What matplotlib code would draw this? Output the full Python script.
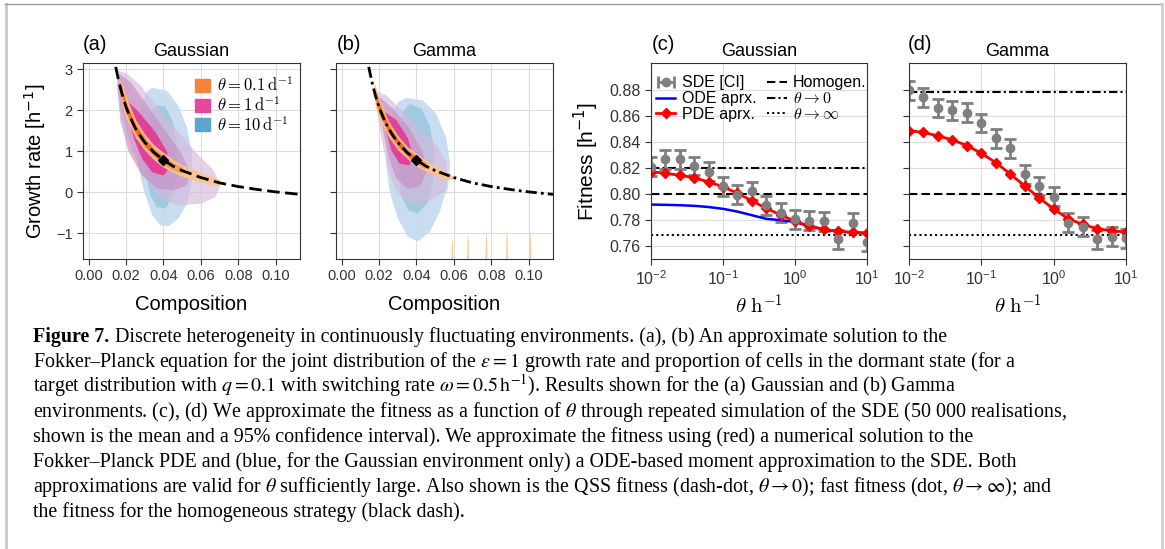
import matplotlib
matplotlib.use("Agg")
import matplotlib.pyplot as plt
from matplotlib.patches import Patch, Ellipse
from matplotlib.lines import Line2D
from matplotlib.collections import LineCollection
from matplotlib.container import ErrorbarContainer
from matplotlib.text import Annotation

plt.rcParams['font.family'] = ['Liberation Sans', 'DejaVu Sans']
plt.rcParams['mathtext.fontset'] = 'cm'
plt.rcParams['axes.edgecolor'] = '#333333'
plt.rcParams['xtick.color'] = '#333333'
plt.rcParams['ytick.color'] = '#333333'

# ---------------- panels (a), (b): composition vs growth rate ----------------
# boundary curve (same in both environments)
curve_x = [0.0145, 0.016, 0.018, 0.02, 0.022, 0.025, 0.0275, 0.03, 0.035, 0.04,
           0.045, 0.05, 0.06, 0.07, 0.08, 0.09, 0.10, 0.113]
curve_y = [3.06, 2.73, 2.37, 2.08, 1.85, 1.56, 1.38, 1.22, 0.97, 0.79,
           0.64, 0.53, 0.36, 0.23, 0.14, 0.07, 0.01, -0.05]
target = (0.04, 0.79)

# Gaussian environment, density outlines (composition, growth rate)
ga_blue_outer = [(0.0340, 2.55), (0.0420, 2.47), (0.0479, 2.12), (0.0525, 1.59),
                 (0.0553, 0.94), (0.0553, 0.29), (0.0525, -0.28), (0.0481, -0.64),
                 (0.0428, -0.83), (0.0384, -0.81), (0.0340, -0.56), (0.0295, 0.05),
                 (0.0262, 0.70), (0.0262, 1.51), (0.0287, 2.16), (0.0313, 2.45)]
ga_blue_mid = [(0.0366, 2.13), (0.0411, 2.09), (0.0447, 1.76), (0.0473, 1.11),
               (0.0473, 0.46), (0.0447, -0.11), (0.0411, -0.40), (0.0366, -0.36),
               (0.0329, -0.07), (0.0302, 0.54), (0.0302, 1.35), (0.0329, 1.92)]
ga_pink_outer = [(0.0153, 2.98), (0.0206, 2.89), (0.0277, 2.61), (0.0366, 2.08),
                 (0.0473, 1.51), (0.0580, 0.94), (0.0668, 0.54), (0.0704, 0.16),
                 (0.0678, -0.12), (0.0598, -0.28), (0.0491, -0.32), (0.0402, -0.20),
                 (0.0349, 0.05), (0.0277, 0.54), (0.0215, 1.27), (0.0171, 2.08),
                 (0.0153, 2.65)]
ga_pink_mid = [(0.0162, 2.89), (0.0224, 2.69), (0.0313, 2.12), (0.0402, 1.55),
               (0.0491, 0.98), (0.0544, 0.50), (0.0526, 0.17), (0.0455, 0.05),
               (0.0366, 0.09), (0.0286, 0.41), (0.0215, 0.98), (0.0171, 1.72),
               (0.0153, 2.53)]
ga_pink_core = [(0.0206, 2.24), (0.0268, 1.96), (0.0357, 1.47), (0.0420, 0.98),
                (0.0428, 0.58), (0.0402, 0.41), (0.0340, 0.49), (0.0286, 0.82),
                (0.0242, 1.31), (0.0215, 1.80)]
ga_band_x = [0.0163, 0.018, 0.02, 0.025, 0.03, 0.035, 0.04, 0.045, 0.05, 0.06, 0.07]
ga_band_hi = [2.76, 2.64, 2.34, 1.78, 1.42, 1.15, 0.97, 0.80, 0.67, 0.48, 0.31]
ga_band_lo = [2.58, 2.10, 1.82, 1.34, 1.02, 0.79, 0.61, 0.49, 0.39, 0.24, 0.16]
ga_mid_x = [0.0166, 0.018, 0.02, 0.025, 0.03, 0.035, 0.04, 0.045, 0.05]
ga_mid_hi = [2.72, 2.54, 2.24, 1.70, 1.35, 1.08, 0.90, 0.74, 0.61]
ga_mid_lo = [2.60, 2.20, 1.92, 1.42, 1.09, 0.86, 0.68, 0.54, 0.46]
ga_core_x = [0.017, 0.02, 0.025, 0.03, 0.035, 0.04]
ga_core_hi = [2.68, 2.17, 1.64, 1.30, 1.04, 0.85]
ga_core_lo = [2.56, 1.99, 1.48, 1.14, 0.90, 0.73]

# Gamma environment
gm_blue_outer = [(0.0346, 2.30), (0.0435, 2.24), (0.0506, 1.92), (0.0560, 1.31),
                 (0.0581, 0.66), (0.0569, 0.09), (0.0551, -0.07), (0.0524, -0.48),
                 (0.0471, -0.97), (0.0408, -1.20), (0.0355, -1.09), (0.0301, -0.64),
                 (0.0257, 0.01), (0.0239, 0.66), (0.0248, 1.39), (0.0275, 1.96),
                 (0.0301, 2.20)]
gm_blue_mid = [(0.0364, 2.16), (0.0426, 2.04), (0.0471, 1.63), (0.0497, 0.98),
               (0.0488, 0.25), (0.0462, -0.24), (0.0408, -0.52), (0.0355, -0.44),
               (0.0319, -0.07), (0.0301, 0.66), (0.0310, 1.47), (0.0328, 1.96)]
gm_pink_outer = [(0.0186, 2.45), (0.0239, 2.37), (0.0328, 1.96), (0.0417, 1.55),
                 (0.0506, 1.15), (0.0560, 0.74), (0.0569, 0.33), (0.0551, 0.01),
                 (0.0488, -0.16), (0.0408, -0.28), (0.0337, -0.20), (0.0284, 0.09),
                 (0.0239, 0.74), (0.0203, 1.55), (0.0186, 2.12)]
gm_pink_mid = [(0.0203, 2.33), (0.0275, 2.04), (0.0364, 1.55), (0.0435, 0.98),
               (0.0453, 0.49), (0.0417, 0.13), (0.0355, 0.09), (0.0293, 0.33),
               (0.0248, 0.90), (0.0212, 1.72)]
gm_pink_core = [(0.0230, 1.96), (0.0293, 1.76), (0.0355, 1.31), (0.0381, 0.90),
                (0.0364, 0.66), (0.0310, 0.70), (0.0266, 1.02), (0.0239, 1.47)]
gm_band_x = [0.0172, 0.018, 0.02, 0.025, 0.03, 0.035, 0.04, 0.045, 0.05, 0.055, 0.0595]
gm_band_hi = [2.66, 2.60, 2.30, 1.74, 1.39, 1.12, 0.94, 0.78, 0.65, 0.53, 0.40]
gm_band_lo = [2.40, 2.10, 1.80, 1.36, 1.04, 0.82, 0.64, 0.52, 0.42, 0.34, 0.31]
gm_mid_x = [0.0176, 0.02, 0.025, 0.03, 0.035, 0.04, 0.045]
gm_mid_hi = [2.56, 2.22, 1.68, 1.34, 1.07, 0.89, 0.73]
gm_mid_lo = [2.30, 1.90, 1.43, 1.10, 0.87, 0.69, 0.56]
gm_core_x = [0.0182, 0.02, 0.025, 0.03, 0.035, 0.04]
gm_core_hi = [2.46, 2.16, 1.63, 1.29, 1.03, 0.85]
gm_core_lo = [2.28, 1.97, 1.48, 1.15, 0.91, 0.74]
# small slivers at the bottom of panel (b)
sliver_x = [0.0592, 0.0676, 0.0774, 0.0884, 0.1009]
sliver_top = [-1.17, -1.05, -1.00, -0.93, -0.97]

legend_a = [r'$\theta = 0.1\,\mathrm{d}^{-1}$', r'$\theta = 1\,\mathrm{d}^{-1}$',
            r'$\theta = 10\,\mathrm{d}^{-1}$']

# ---------------- panels (c), (d): fitness vs theta ----------------
theta = [0.01, 0.0158, 0.0251, 0.0398, 0.0631, 0.1, 0.158, 0.251,
         0.398, 0.631, 1.0, 1.58, 2.51, 3.98, 6.31, 10.0]

gauss_sde = [0.8213, 0.8270, 0.8270, 0.8218, 0.8174, 0.8061, 0.7997, 0.8025,
             0.7914, 0.7858, 0.7806, 0.7796, 0.7791, 0.7651, 0.7780, 0.7631]
gauss_ci = [0.0072, 0.0072, 0.0072, 0.0072, 0.0072, 0.0072, 0.0072, 0.0072,
            0.0072, 0.0072, 0.0072, 0.0072, 0.0072, 0.0072, 0.0072, 0.0072]
gauss_pde = [0.8174, 0.8161, 0.8146, 0.8128, 0.8094, 0.8058, 0.8007, 0.7950,
             0.7891, 0.7840, 0.7791, 0.7755, 0.7729, 0.7713, 0.7706, 0.7700]
gauss_ode = [0.7920, 0.7918, 0.7915, 0.7910, 0.7901, 0.7887, 0.7866, 0.7838,
             0.7810, 0.7800, 0.7786, 0.7752, 0.7728, 0.7712, 0.7705, 0.7700]
gauss_homog, gauss_qss, gauss_fast = 0.800, 0.8205, 0.7682

gamma_sde = [0.8800, 0.8748, 0.8664, 0.8646, 0.8630, 0.8548, 0.8432, 0.8355,
             0.8154, 0.8064, 0.7981, 0.7780, 0.7749, 0.7651, 0.7672, 0.7659]
gamma_ci = [0.0072, 0.0072, 0.0072, 0.0072, 0.0072, 0.0072, 0.0072, 0.0072,
            0.0072, 0.0072, 0.0072, 0.0072, 0.0072, 0.0072, 0.0072, 0.0072]
gamma_pde = [0.8491, 0.8476, 0.8450, 0.8419, 0.8375, 0.8316, 0.8244, 0.8156,
             0.8064, 0.7971, 0.7886, 0.7811, 0.7767, 0.7734, 0.7718, 0.7708]
gamma_homog, gamma_qss, gamma_fast = 0.800, 0.8792, 0.7682

caption = [
    "Discrete heterogeneity in continuously fluctuating environments. (a), (b) An approximate solution to the",
    r"Fokker–Planck equation for the joint distribution of the $\varepsilon = 1$ growth rate and proportion of cells in the dormant state (for a",
    r"target distribution with $q = 0.1$ with switching rate $\omega = 0.5\,\mathrm{h}^{-1}$). Results shown for the (a) Gaussian and (b) Gamma",
    r"environments. (c), (d) We approximate the fitness as a function of $\theta$ through repeated simulation of the SDE (50 000 realisations,",
    "shown is the mean and a 95% confidence interval). We approximate the fitness using (red) a numerical solution to the",
    "Fokker–Planck PDE and (blue, for the Gaussian environment only) a ODE-based moment approximation to the SDE. Both",
    r"approximations are valid for $\theta$ sufficiently large. Also shown is the QSS fitness (dash-dot, $\theta \rightarrow 0$); fast fitness (dot, $\theta \rightarrow \infty$); and",
    "the fitness for the homogeneous strategy (black dash).",
]

# colours
c_blue_outer, c_blue_mid = '#c3daf0', '#9ac7e0'
c_pink_outer, c_pink_mid, c_pink_core = '#d4b9da', '#c98ec4', '#e7298a'
c_or_outer, c_or_mid, c_or_core = '#fdc48e', '#f99c52', '#ec6518'
sde_col = '#7f7f7f'

W, H = 1165, 549
fig = plt.figure(figsize=(W / 100, H / 100), dpi=100)


def box(l, t, r, b):
    return [l / W, 1 - b / H, (r - l) / W, (b - t) / H]


def poly(ax, pts, col, alpha):
    ax.fill([p[0] for p in pts], [p[1] for p in pts], color=col, alpha=alpha, lw=0)


def composition_panel(ax, blobs, bands, ls, title):
    ax.grid(color='#dddddd', lw=0.8)
    ax.set_axisbelow(True)
    for pts, col, a in blobs:
        poly(ax, pts, col, a)
    for bx, lo, hi, col in bands:
        ax.fill_between(bx, lo, hi, color=col, lw=0, alpha=0.95)
    ax.plot(curve_x, curve_y, color='black', ls=ls, lw=2)
    ax.plot([target[0]], [target[1]], 'D', color='black', ms=5)
    ax.set_xlim(-0.003, 0.113)
    ax.set_ylim(-1.627, 3.154)
    ax.set_xticks([0.0, 0.02, 0.04, 0.06, 0.08, 0.10])
    ax.set_xticklabels(['0.00', '0.02', '0.04', '0.06', '0.08', '0.10'])
    ax.set_yticks([-1, 0, 1, 2, 3])
    ax.tick_params(labelsize=10.5, length=4, width=0.8)
    ax.set_xlabel('Composition', fontsize=14.5, labelpad=8)
    ax.set_title(title, fontsize=13, pad=5)


ax_a = fig.add_axes(box(83, 63, 300, 259))
composition_panel(ax_a,
                  [(ga_blue_outer, c_blue_outer, 0.9), (ga_blue_mid, c_blue_mid, 0.85),
                   (ga_pink_outer, c_pink_outer, 0.65), (ga_pink_mid, c_pink_mid, 0.65),
                   (ga_pink_core, c_pink_core, 0.8)],
                  [(ga_band_x, ga_band_lo, ga_band_hi, c_or_outer),
                   (ga_mid_x, ga_mid_lo, ga_mid_hi, c_or_mid),
                   (ga_core_x, ga_core_lo, ga_core_hi, c_or_core)],
                  (0, (4.5, 2)), 'Gaussian')
ax_a.set_yticklabels(['\u22121', '0', '1', '2', '3'])
ax_a.set_ylabel(r'Growth rate [h$^{-1}$]', fontsize=14.5, labelpad=6,
                math_fontfamily='dejavusans')
leg_handles = [Patch(color='#f4843a'), Patch(color='#e6489a'), Patch(color='#5fa3cf')]
ax_a.legend(leg_handles, legend_a, loc='upper right', bbox_to_anchor=(1.0, 0.97),
            frameon=False, fontsize=12, handlelength=0.9, handleheight=0.85,
            handletextpad=0.4, labelspacing=0.05, borderaxespad=0.0, borderpad=0.4)

ax_b = fig.add_axes(box(336, 63, 553, 259))
composition_panel(ax_b,
                  [(gm_blue_outer, c_blue_outer, 0.9), (gm_blue_mid, c_blue_mid, 0.85),
                   (gm_pink_outer, c_pink_outer, 0.65), (gm_pink_mid, c_pink_mid, 0.65),
                   (gm_pink_core, c_pink_core, 0.8)],
                  [(gm_band_x, gm_band_lo, gm_band_hi, c_or_outer),
                   (gm_mid_x, gm_mid_lo, gm_mid_hi, c_or_mid),
                   (gm_core_x, gm_core_lo, gm_core_hi, c_or_core)],
                  (0, (4, 1.5, 1, 1.5)), 'Gamma')
ax_b.set_yticklabels([])
for sx, st in zip(sliver_x, sliver_top):
    ax_b.add_patch(Ellipse((sx, -1.627), 0.0009, 2 * (st + 1.627),
                           color=c_or_outer, alpha=0.9, lw=0))


def fitness_panel(ax, sde, ci, pde, homog, qss, fast, title, ode=None):
    ax.grid(color='#dddddd', lw=0.8)
    ax.set_axisbelow(True)
    ax.set_xscale('log')
    hl = []
    hl.append(ax.axhline(homog, color='black', ls=(0, (4, 2)), lw=1.5))
    hl.append(ax.axhline(qss, color='black', ls=(0, (4, 1.5, 1, 1.5)), lw=1.5))
    hl.append(ax.axhline(fast, color='black', ls=(0, (1, 1.5)), lw=1.5))
    ax.errorbar(theta, sde, yerr=ci, fmt='o', color=sde_col, ms=6, capsize=4,
                elinewidth=2, capthick=2)
    ode_line = None
    if ode is not None:
        ode_line, = ax.plot(theta, ode, color='#0000ff', lw=1.8)
    pde_line, = ax.plot(theta, pde, color='#ff0000', lw=2, marker='D', ms=5)
    ax.set_xlim(0.01, 10)
    ax.set_ylim(0.750, 0.9012)
    ax.set_yticks([0.76, 0.78, 0.80, 0.82, 0.84, 0.86, 0.88])
    ax.minorticks_off()
    ax.tick_params(labelsize=11.5, length=4, width=0.8)
    ax.set_xlabel(r'$\theta\ \mathrm{h}^{-1}$', fontsize=15, labelpad=4)
    ax.set_title(title, fontsize=13, pad=5)
    return hl, ode_line, pde_line


ax_c = fig.add_axes(box(651, 63, 867, 259))
hl, ode_line, pde_line = fitness_panel(ax_c, gauss_sde, gauss_ci, gauss_pde, gauss_homog,
                                       gauss_qss, gauss_fast, 'Gaussian', ode=gauss_ode)
ax_c.set_ylabel(r'Fitness [h$^{-1}$]', fontsize=15, labelpad=6,
                math_fontfamily='dejavusans')
pl = Line2D([], [], color=sde_col, marker='o', ls='none', ms=6)
cl = Line2D([], [], color=sde_col, marker='|', ms=8, mew=2, ls='none')
bl = LineCollection([], colors=sde_col, linewidths=2)
sde_handle = ErrorbarContainer((pl, (cl,), (bl,)), has_xerr=True, has_yerr=False)
ax_c.legend([sde_handle, ode_line, pde_line] + hl,
            ['SDE [CI]', 'ODE aprx.', 'PDE aprx.', 'Homogen.',
             r'$\theta \rightarrow 0$', r'$\theta \rightarrow \infty$'],
            ncol=2, loc='upper left', bbox_to_anchor=(0.009, 0.953),
            frameon=False, fontsize=11.5, handlelength=1.2, handletextpad=0.4,
            columnspacing=0.7, labelspacing=0.05, borderaxespad=0.0, borderpad=0.2)

ax_d = fig.add_axes(box(909, 63, 1126, 259))
fitness_panel(ax_d, gamma_sde, gamma_ci, gamma_pde, gamma_homog,
              gamma_qss, gamma_fast, 'Gamma')
ax_d.set_yticklabels([])

# panel letters
for lx, lab in [(83, '(a)'), (337, '(b)'), (652, '(c)'), (908, '(d)')]:
    fig.text(lx / W, 1 - 45 / H, lab, fontsize=14.5, va='center', ha='left')

# caption
cap = fig.add_axes([0, 0, 1, 1])
cap.axis('off')
cap.set_xlim(0, W)
cap.set_ylim(H, 0)
fs = 14.4
t0 = cap.text(33, 342, 'Figure 7.', fontsize=fs, fontweight='bold',
              family='Liberation Serif', va='baseline')
first = Annotation(caption[0], xy=(1, 0), xycoords=t0, xytext=(3.8, 0),
                   textcoords='offset points', va='bottom', fontsize=fs,
                   family='Liberation Serif', math_fontfamily='stix')
cap.add_artist(first)
for i, line in enumerate(caption[1:], start=1):
    cap.text(33, 342 + 25 * i, line, fontsize=fs, family='Liberation Serif',
             va='baseline', math_fontfamily='stix')

# page frame
cap.add_line(Line2D([6, 6], [4, H], color='#c8c8c8', lw=2))
cap.add_line(Line2D([5, 1162], [4, 4], color='#9a9a9a', lw=1))
cap.add_line(Line2D([1162, 1162], [4, H], color='#d0d0d0', lw=2))

fig.savefig('out.png', dpi=100)
